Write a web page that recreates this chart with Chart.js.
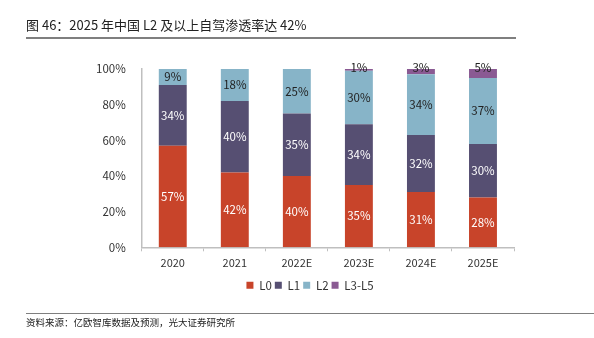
<!DOCTYPE html>
<html>
<head>
<meta charset="utf-8">
<script src="https://cdn.jsdelivr.net/npm/chart.js@4.4.1/dist/chart.umd.min.js"></script>
<style>
    body { margin: 0; background: #fff; font-family: "Noto Sans CJK SC", sans-serif; }
    #wrap { position: relative; width: 594px; height: 338px; overflow: hidden; }
    #title {
        position: absolute; left: 26px; top: 15px; width: 490px;
        font-size: 13px; color: #222; line-height: 19px;
        border-bottom: 2px solid #7f7f7f; padding-bottom: 3px;
    }
    #source {
        position: absolute; left: 26px; top: 313px; width: 568px;
        font-size: 9.5px; color: #222; line-height: 16px;
        border-top: 1.5px solid #7f7f7f;
    }
    #mainChart { position: absolute; left: 0; top: 0; }
</style>
</head>
<body>
<div id="wrap">
    <canvas id="mainChart" width="594" height="338"></canvas>
    <div id="title">图 46：2025 年中国 L2 及以上自驾渗透率达 42%</div>
    <div id="source">资料来源：亿欧智库数据及预测，光大证券研究所</div>
</div>
<script>
const years = ['2020', '2021', '2022E', '2023E', '2024E', '2025E'];
const l0 = [57, 42, 40, 35, 31, 28];
const l1 = [34, 40, 35, 34, 32, 30];
const l2 = [9, 18, 25, 30, 34, 37];
const l3to5 = [0, 0, 0, 1, 3, 5];
const yTicks = [0, 20, 40, 60, 80, 100];

const seriesNames = ['L0', 'L1', 'L2', 'L3-L5'];
const seriesColors = ['#C8442A', '#564F72', '#87B4C8', '#8A5A93'];
const labelColors = ['#ffffff', '#ffffff', '#222222', '#222222'];

/* 柱内数值标签 */
const barLabels = {
    id: 'barLabels',
    afterDatasetsDraw(chart) {
        const ctx = chart.ctx;
        ctx.save();
        ctx.font = '11.5px "Noto Sans CJK SC", sans-serif';
        ctx.textAlign = 'center';
        ctx.textBaseline = 'middle';
        chart.data.datasets.forEach((ds, i) => {
            const meta = chart.getDatasetMeta(i);
            meta.data.forEach((bar, j) => {
                const v = ds.data[j];
                if (!v) return;
                ctx.fillStyle = labelColors[i];
                let y = (bar.y + bar.base) / 2;
                if (i === 3) y = bar.y - 1;
                ctx.fillText(v + '%', bar.x, y);
            });
        });
        ctx.restore();
    }
};

/* 图例稍微右移 */
const legendShift = {
    id: 'legendShift',
    afterLayout(chart) {
        if (chart.legend) {
            chart.legend.left += 9;
            chart.legend.right += 9;
        }
    }
};

const datasets = [l0, l1, l2, l3to5].map((values, i) => ({
    label: seriesNames[i],
    data: values,
    backgroundColor: seriesColors[i],
    borderWidth: 0,
    barPercentage: 0.45,
    categoryPercentage: 1
}));

new Chart(document.getElementById('mainChart'), {
    type: 'bar',
    data: { labels: years, datasets: datasets },
    options: {
        responsive: false,
        animation: false,
        devicePixelRatio: 1,
        layout: { padding: { left: 88, right: 80, top: 69, bottom: 37 } },
        scales: {
            x: {
                stacked: true,
                afterFit(axis) { axis.height += 2; },
                grid: { display: true, offset: true, drawOnChartArea: false, drawTicks: true, tickLength: 4, color: '#BFBFBF' },
                border: { color: '#BFBFBF', width: 1.5 },
                ticks: { color: '#333', font: { size: 11, family: '"Noto Sans CJK SC", sans-serif' }, padding: 5 }
            },
            y: {
                stacked: true,
                min: 0,
                max: 100,
                afterBuildTicks(axis) { axis.ticks = yTicks.map(v => ({ value: v })); },
                grid: { display: false },
                border: { color: '#BFBFBF', width: 1.5 },
                ticks: {
                    color: '#333',
                    padding: 8,
                    font: { size: 11.5, family: '"Noto Sans CJK SC", sans-serif' },
                    callback: v => v + '%'
                }
            }
        },
        plugins: {
            legend: {
                position: 'bottom',
                labels: {
                    boxWidth: 7,
                    boxHeight: 7,
                    padding: 3,
                    color: '#333',
                    font: { size: 11.5, family: '"Noto Sans CJK SC", sans-serif' }
                }
            },
            tooltip: { enabled: false }
        }
    },
    plugins: [barLabels, legendShift]
});
</script>
</body>
</html>
